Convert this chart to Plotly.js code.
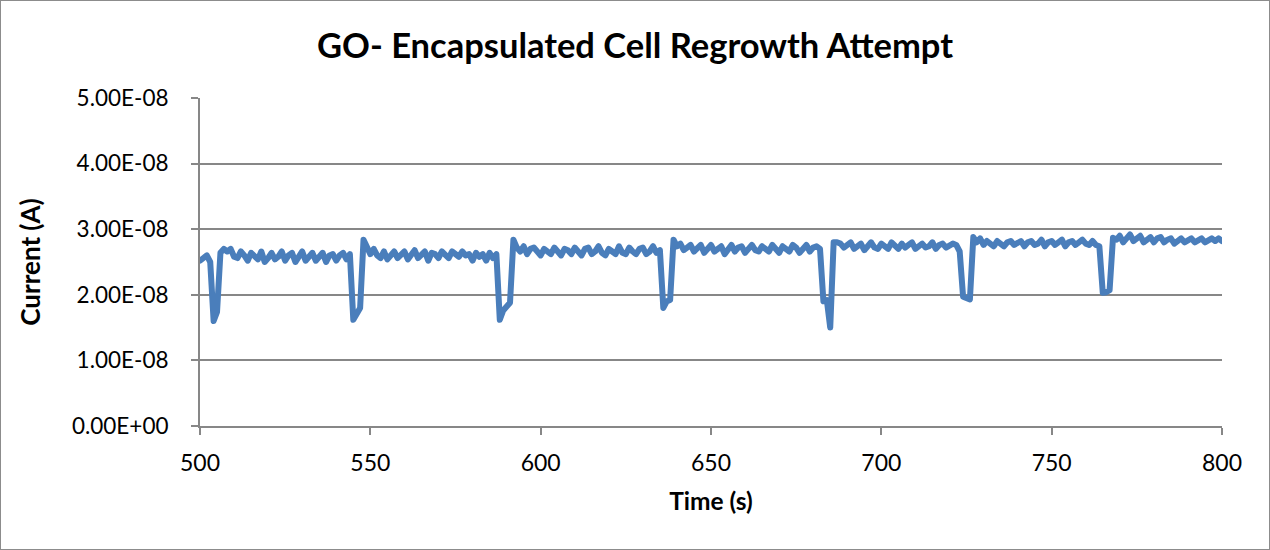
<!DOCTYPE html>
<html>
<head>
<meta charset="utf-8">
<script src="https://cdn.plot.ly/plotly-3.0.1.min.js"></script>
<style>
html,body{margin:0;padding:0;background:#fff;}
#chart{width:1268px;height:548px;border:1px solid #8c8c8c;}
#chart .js-line{stroke-linejoin:round;stroke-linecap:round;}
</style>
</head>
<body>
<div id="chart"></div>
<script>
// Time axis: one sample per second from 500 s to 800 s
const timeStart = 500;
const timeStep = 1;
// Current in units of 1e-8 A, one value per second (500..800)
const currentE8 = [
  2.52, 2.56, 2.60, 2.50, 1.60, 1.74, 2.64, 2.70, 2.66, 2.70,
  2.58, 2.56, 2.66, 2.60, 2.52, 2.64, 2.58, 2.54, 2.66, 2.50,
  2.56, 2.64, 2.54, 2.58, 2.66, 2.52, 2.60, 2.64, 2.50, 2.58,
  2.66, 2.52, 2.60, 2.64, 2.52, 2.58, 2.64, 2.50, 2.60, 2.62,
  2.52, 2.60, 2.64, 2.54, 2.62, 1.62, 1.72, 1.80, 2.84, 2.72,
  2.62, 2.70, 2.60, 2.56, 2.66, 2.54, 2.62, 2.66, 2.56, 2.60,
  2.66, 2.54, 2.62, 2.68, 2.56, 2.60, 2.66, 2.52, 2.64, 2.62,
  2.56, 2.66, 2.60, 2.56, 2.66, 2.62, 2.58, 2.66, 2.60, 2.62,
  2.52, 2.64, 2.58, 2.62, 2.52, 2.64, 2.56, 2.62, 1.62, 1.76,
  1.82, 1.88, 2.84, 2.72, 2.66, 2.74, 2.62, 2.70, 2.72, 2.64,
  2.60, 2.70, 2.66, 2.62, 2.72, 2.64, 2.60, 2.70, 2.68, 2.62,
  2.72, 2.66, 2.60, 2.70, 2.72, 2.62, 2.66, 2.74, 2.64, 2.60,
  2.70, 2.66, 2.62, 2.74, 2.64, 2.62, 2.72, 2.66, 2.62, 2.70,
  2.72, 2.62, 2.66, 2.74, 2.64, 2.68, 1.80, 1.90, 1.92, 2.84,
  2.74, 2.78, 2.68, 2.72, 2.76, 2.66, 2.70, 2.76, 2.64, 2.72,
  2.76, 2.66, 2.70, 2.74, 2.62, 2.70, 2.76, 2.66, 2.72, 2.74,
  2.64, 2.70, 2.76, 2.68, 2.66, 2.74, 2.70, 2.66, 2.76, 2.68,
  2.64, 2.74, 2.70, 2.66, 2.76, 2.72, 2.64, 2.70, 2.76, 2.66,
  2.72, 2.74, 2.70, 1.90, 1.92, 1.50, 2.80, 2.80, 2.78, 2.72,
  2.76, 2.80, 2.70, 2.74, 2.78, 2.68, 2.74, 2.80, 2.72, 2.70,
  2.78, 2.74, 2.70, 2.80, 2.74, 2.70, 2.78, 2.72, 2.76, 2.80,
  2.70, 2.74, 2.78, 2.72, 2.74, 2.80, 2.70, 2.76, 2.78, 2.72,
  2.74, 2.78, 2.76, 2.66, 1.97, 1.95, 1.93, 2.88, 2.80, 2.86,
  2.76, 2.82, 2.78, 2.74, 2.82, 2.78, 2.74, 2.80, 2.82, 2.76,
  2.78, 2.82, 2.74, 2.80, 2.82, 2.76, 2.78, 2.84, 2.74, 2.80,
  2.82, 2.76, 2.80, 2.84, 2.74, 2.80, 2.82, 2.76, 2.80, 2.84,
  2.78, 2.76, 2.82, 2.76, 2.74, 2.03, 2.04, 2.07, 2.87, 2.84,
  2.90, 2.80, 2.86, 2.92, 2.82, 2.86, 2.90, 2.80, 2.84, 2.88,
  2.80, 2.86, 2.88, 2.80, 2.84, 2.86, 2.78, 2.82, 2.86, 2.80,
  2.82, 2.86, 2.80, 2.84, 2.86, 2.80, 2.84, 2.86, 2.82, 2.86,
  2.82
];
const yTickVals = [0, 1e-8, 2e-8, 3e-8, 4e-8, 5e-8];
const yTickText = ["0.00E+00", "1.00E-08", "2.00E-08", "3.00E-08", "4.00E-08", "5.00E-08"];
const xTickVals = [500, 550, 600, 650, 700, 750, 800];
const chartTitle = "GO- Encapsulated Cell Regrowth Attempt";
const xTitle = "Time (s)";
const yTitle = "Current (A)";

const times = currentE8.map((_, i) => timeStart + i * timeStep);
const current = currentE8.map(v => v * 1e-8);

const font = "Lato, 'Open Sans', sans-serif";
const gridCol = "#878787";

Plotly.newPlot("chart", [{
  x: times, y: current, type: "scatter", mode: "lines",
  line: {color: "#4a7ebb", width: 6, shape: "linear"},
  hoverinfo: "skip"
}], {
  width: 1268, height: 548,
  margin: {l: 199, r: 47, t: 97, b: 123},
  paper_bgcolor: "#fff", plot_bgcolor: "#fff",
  showlegend: false,
  title: {text: "<b>" + chartTitle + "</b>", font: {family: font, size: 34.5, color: "#000"},
          x: 0.5, xref: "container", xanchor: "center", y: 0.918, yanchor: "middle"},
  xaxis: {
    range: [500, 800], tickvals: xTickVals, ticktext: xTickVals.map(String),
    showgrid: false, zeroline: false,
    showline: true, linecolor: gridCol, linewidth: 2,
    ticks: "outside", ticklen: 7, tickwidth: 2, tickcolor: gridCol,
    ticklabelstandoff: 8,
    tickfont: {family: font, size: 23, color: "#000"},
    title: {text: "<b>" + xTitle + "</b>", font: {family: font, size: 24.5, color: "#000"}, standoff: 18}
  },
  yaxis: {
    range: [0, 5e-8], tickvals: yTickVals, ticktext: yTickText,
    showgrid: true, gridcolor: gridCol, gridwidth: 2,
    zeroline: false,
    showline: true, linecolor: gridCol, linewidth: 2,
    ticks: "outside", ticklen: 7, tickwidth: 2, tickcolor: gridCol,
    ticklabelstandoff: 18,
    tickfont: {family: font, size: 22.5, color: "#000"},
    title: {text: "<b>" + yTitle + "</b>", font: {family: font, size: 26, color: "#000"}, standoff: 24}
  }
}, {displayModeBar: false, staticPlot: true});
</script>
</body>
</html>
